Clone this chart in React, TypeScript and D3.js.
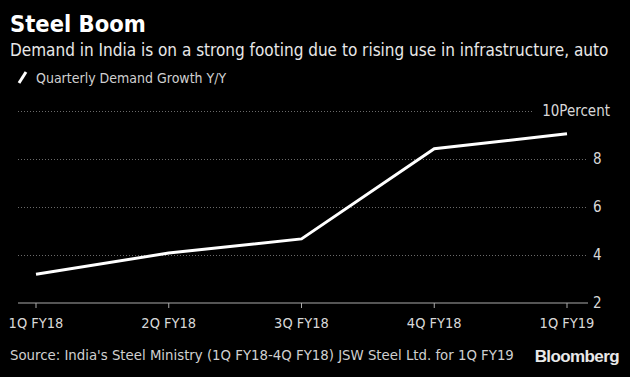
import React from "react";
import * as d3 from "d3";

const categories = ["1Q FY18", "2Q FY18", "3Q FY18", "4Q FY18", "1Q FY19"];
const demandGrowth = [3.2, 4.08, 4.67, 8.43, 9.05];
const yTicks = [2, 4, 6, 8, 10];

const W = 630;
const H = 377;
const FONT = "'DejaVu Sans Condensed', 'DejaVu Sans', sans-serif";

export default function App() {
  const x = d3.scalePoint<string>().domain(categories).range([36, 567]);
  const y = d3.scaleLinear().domain([2, 10]).range([303, 111]);
  const line = d3
    .line<number>()
    .x((_, i) => x(categories[i]) as number)
    .y((d) => y(d));

  return (
    <div style={{ position: "absolute", left: 0, top: 0 }}>
      <svg width={W} height={H} style={{ display: "block", background: "#000" }}>
        <rect width={W} height={H} fill="#000" />
        <text x={10} y={32} fill="#fff" fontFamily={FONT} fontWeight="bold" fontSize={23.5}>
          Steel Boom
        </text>
        <text x={10} y={56} fill="#e8e8e8" fontFamily={FONT} fontSize={17}>
          Demand in India is on a strong footing due to rising use in infrastructure, auto
        </text>
        <line x1={19} y1={83} x2={26} y2={72} stroke="#fff" strokeWidth={3} />
        <text x={36} y={83} fill="#d0d0d0" fontFamily={FONT} fontSize={14}>
          Quarterly Demand Growth Y/Y
        </text>

        {yTicks.map((t) =>
          t === 2 ? null : (
            <line
              key={"g" + t}
              x1={18}
              x2={t === 10 ? 533 : 587}
              y1={Math.round(y(t)) + 0.5}
              y2={Math.round(y(t)) + 0.5}
              stroke="#6a6a6a"
              strokeWidth={1}
              strokeDasharray="1,2"
              shapeRendering="crispEdges"
            />
          )
        )}
        <line x1={18} x2={588} y1={y(2)} y2={y(2)} stroke="#aaa" strokeWidth={1.2} />
        {categories.map((c) => (
          <g key={c}>
            <line x1={x(c)} x2={x(c)} y1={y(2)} y2={y(2) + 5} stroke="#aaa" strokeWidth={1} />
            <text
              x={x(c)}
              y={328}
              fill="#d8d8d8"
              fontFamily={FONT}
              fontSize={14.5}
              textAnchor="middle"
            >
              {c}
            </text>
          </g>
        ))}
        {yTicks.map((t) => (
          <text
            key={"t" + t}
            x={t === 10 ? 610 : 593}
            y={y(t) + 5}
            fill="#d8d8d8"
            fontFamily={FONT}
            fontSize={15}
            textAnchor={t === 10 ? "end" : "start"}
          >
            {t === 10 ? "10Percent" : t}
          </text>
        ))}

        <path
          d={line(demandGrowth) || ""}
          fill="none"
          stroke="#fff"
          strokeWidth={3}
          strokeLinejoin="miter"
        />

        <text x={10} y={360} fill="#d0d0d0" fontFamily={FONT} fontSize={14.8}>
          Source: India's Steel Ministry (1Q FY18-4Q FY18) JSW Steel Ltd. for 1Q FY19
        </text>
        <text
          x={619}
          y={362}
          fill="#e8e8e8"
          fontFamily="'Liberation Sans', Arial, sans-serif"
          fontWeight="bold"
          fontSize={17}
          textAnchor="end"
          letterSpacing={-0.6}
        >
          Bloomberg
        </text>
      </svg>
    </div>
  );
}
